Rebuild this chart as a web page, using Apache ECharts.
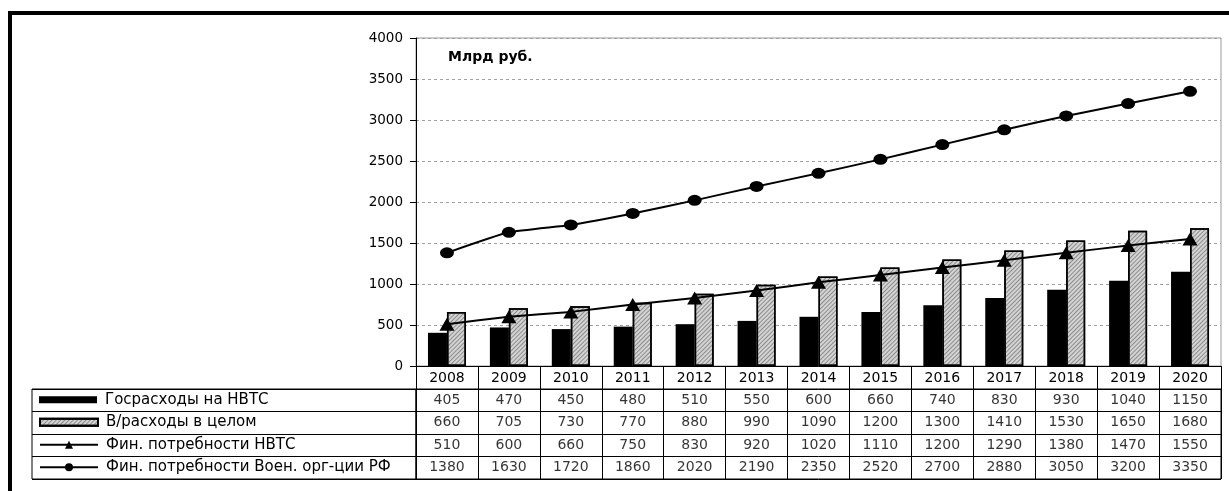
<!DOCTYPE html>
<html>
<head>
<meta charset="utf-8">
<script src="https://cdn.jsdelivr.net/npm/echarts@6/dist/echarts.min.js"></script>
<style>
  html, body { margin: 0; padding: 0; background: #fff; }
  #chart { width: 1229px; height: 491px; }
</style>
</head>
<body>
<div id="chart"></div>
<script>
// Years along the category axis
const years = ['2008', '2009', '2010', '2011', '2012', '2013', '2014', '2015', '2016', '2017', '2018', '2019', '2020'];

// Series values, billion roubles
const govNvts = [405, 470, 450, 480, 510, 550, 600, 660, 740, 830, 930, 1040, 1150];
const milTotal = [660, 705, 730, 770, 880, 990, 1090, 1200, 1300, 1410, 1530, 1650, 1680];
const needNvts = [510, 600, 660, 750, 830, 920, 1020, 1110, 1200, 1290, 1380, 1470, 1550];
const needMil = [1380, 1630, 1720, 1860, 2020, 2190, 2350, 2520, 2700, 2880, 3050, 3200, 3350];

// Series names (also the data-table row headers)
const seriesNames = [
  'Госрасходы на НВТС',
  'В/расходы в целом',
  'Фин. потребности НВТС',
  'Фин. потребности Воен. орг-ции РФ'
];

// Value axis ticks
const yMin = 0, yMax = 4000, yStep = 500;
const unitLabel = 'Млрд руб.';

const FONT = 'DejaVu Sans';

// Layout of plot and data table
const plotLeft = 416, plotTop = 38, plotWidth = 805, plotHeight = 328;
const yearRowH = 23;
const tableTop = plotTop + plotHeight + yearRowH;
const rowH = 22.5;
const labelLeft = 32;

const tableRows = [govNvts, milTotal, needNvts, needMil];
const tableCells = [];
tableRows.forEach(function (row, r) {
  row.forEach(function (v, i) {
    tableCells.push([years[i], seriesNames[r], v]);
  });
});

// Diagonal hatch for the total-spending bars
const hatch = {
  symbol: 'rect',
  symbolSize: 1,
  color: 'rgba(80,80,80,0.55)',
  dashArrayX: [1, 0],
  dashArrayY: [1, 2],
  rotation: -Math.PI / 4
};

const chart = echarts.init(document.getElementById('chart'), null, { renderer: 'canvas' });

function rowCenter(r) { return tableTop + rowH * (r + 0.5); }

const legendBase = {
  orient: 'horizontal',
  left: 39,
  padding: 0,
  itemWidth: 58,
  selectedMode: false,
  textStyle: { fontFamily: FONT, fontSize: 15, color: '#000', padding: [0, 0, 0, 3] }
};

const option = {
  backgroundColor: '#fff',
  animation: false,
  title: {
    text: unitLabel,
    left: 448,
    top: 50,
    padding: 0,
    textStyle: { fontFamily: FONT, fontSize: 14, fontWeight: 'bold', color: '#000' }
  },
  legend: [
    Object.assign({}, legendBase, { data: [{ name: seriesNames[0], icon: 'rect' }], top: rowCenter(0) - 8, itemHeight: 7 }),
    Object.assign({}, legendBase, { data: [{ name: seriesNames[1], icon: 'rect' }], top: rowCenter(1) - 8, itemHeight: 7 }),
    Object.assign({}, legendBase, { data: [seriesNames[2]], top: rowCenter(2) - 8, itemHeight: 10 }),
    Object.assign({}, legendBase, { data: [seriesNames[3]], top: rowCenter(3) - 8, itemHeight: 10 })
  ],
  graphic: [{
    type: 'rect',
    shape: { x: 10, y: 13, width: 1300, height: 600 },
    style: { fill: 'none', stroke: '#000', lineWidth: 4 },
    silent: true,
    z: 100
  }],
  grid: [
    { left: plotLeft, top: plotTop, width: plotWidth, height: plotHeight, show: true, borderColor: '#999', borderWidth: 1, backgroundColor: '#fff' },
    { left: plotLeft, top: tableTop, width: plotWidth, height: rowH * 4, show: true, borderColor: '#000', borderWidth: 1 },
    { left: labelLeft, top: tableTop, width: plotLeft - labelLeft, height: rowH * 4, show: true, borderColor: '#000', borderWidth: 1 }
  ],
  xAxis: [
    {
      gridIndex: 0,
      type: 'category',
      data: years,
      boundaryGap: true,
      axisLine: { lineStyle: { color: '#000', width: 1 } },
      axisTick: { show: true, interval: 0, length: yearRowH, lineStyle: { color: '#000', width: 1 } },
      axisLabel: { interval: 0, margin: 5, fontFamily: FONT, fontSize: 14, color: '#000' }
    },
    {
      gridIndex: 1,
      type: 'category',
      data: years,
      boundaryGap: true,
      axisLine: { show: false },
      axisTick: { show: false },
      axisLabel: { show: false },
      splitLine: { show: true, interval: 0, lineStyle: { color: '#000', width: 1 } }
    },
    {
      gridIndex: 2,
      type: 'value',
      show: false
    }
  ],
  yAxis: [
    {
      gridIndex: 0,
      type: 'value',
      min: yMin,
      max: yMax,
      interval: yStep,
      axisLine: { show: true, lineStyle: { color: '#000', width: 1 } },
      axisTick: { show: true, length: 6, lineStyle: { color: '#000' } },
      axisLabel: { margin: 13, fontFamily: FONT, fontSize: 13.5, color: '#000', formatter: function (v) { return String(v); } },
      splitLine: { show: true, lineStyle: { color: '#a0a0a0', width: 1, type: [3, 3] } }
    },
    {
      gridIndex: 1,
      type: 'category',
      data: seriesNames,
      inverse: true,
      axisLine: { show: false },
      axisTick: { show: false },
      axisLabel: { show: false },
      splitLine: { show: true, interval: 0, lineStyle: { color: '#000', width: 1 } }
    },
    {
      gridIndex: 2,
      type: 'category',
      data: seriesNames,
      inverse: true,
      axisLine: { show: false },
      axisTick: { show: false },
      axisLabel: { show: false },
      splitLine: { show: true, interval: 0, lineStyle: { color: '#000', width: 1 } }
    }
  ],
  series: [
    {
      name: seriesNames[0],
      type: 'bar',
      xAxisIndex: 0, yAxisIndex: 0,
      data: govNvts,
      barWidth: 19,
      barGap: '0%',
      itemStyle: { color: '#000' }
    },
    {
      name: seriesNames[1],
      type: 'bar',
      xAxisIndex: 0, yAxisIndex: 0,
      data: milTotal,
      barWidth: 19,
      barGap: '0%',
      itemStyle: { color: '#d4d4d4', borderColor: '#000', borderWidth: 1.5, decal: hatch }
    },
    {
      name: seriesNames[2],
      type: 'line',
      xAxisIndex: 0, yAxisIndex: 0,
      data: needNvts,
      smooth: 0.15,
      symbol: 'triangle',
      symbolSize: [15, 13],
      itemStyle: { color: '#000' },
      lineStyle: { color: '#000', width: 2 },
      z: 5
    },
    {
      name: seriesNames[3],
      type: 'line',
      xAxisIndex: 0, yAxisIndex: 0,
      data: needMil,
      smooth: 0.15,
      symbol: 'circle',
      symbolSize: [14, 11],
      itemStyle: { color: '#000' },
      lineStyle: { color: '#000', width: 2 },
      z: 5
    },
    {
      name: 'table',
      type: 'scatter',
      xAxisIndex: 1, yAxisIndex: 1,
      data: tableCells,
      symbolSize: 1,
      silent: true,
      itemStyle: { color: 'rgba(0,0,0,0)' },
      label: {
        show: true,
        position: 'inside',
        fontFamily: FONT,
        fontSize: 14,
        color: '#000',
        formatter: function (p) { return String(p.value[2]); }
      }
    }
  ]
};

chart.setOption(option);
</script>
</body>
</html>
